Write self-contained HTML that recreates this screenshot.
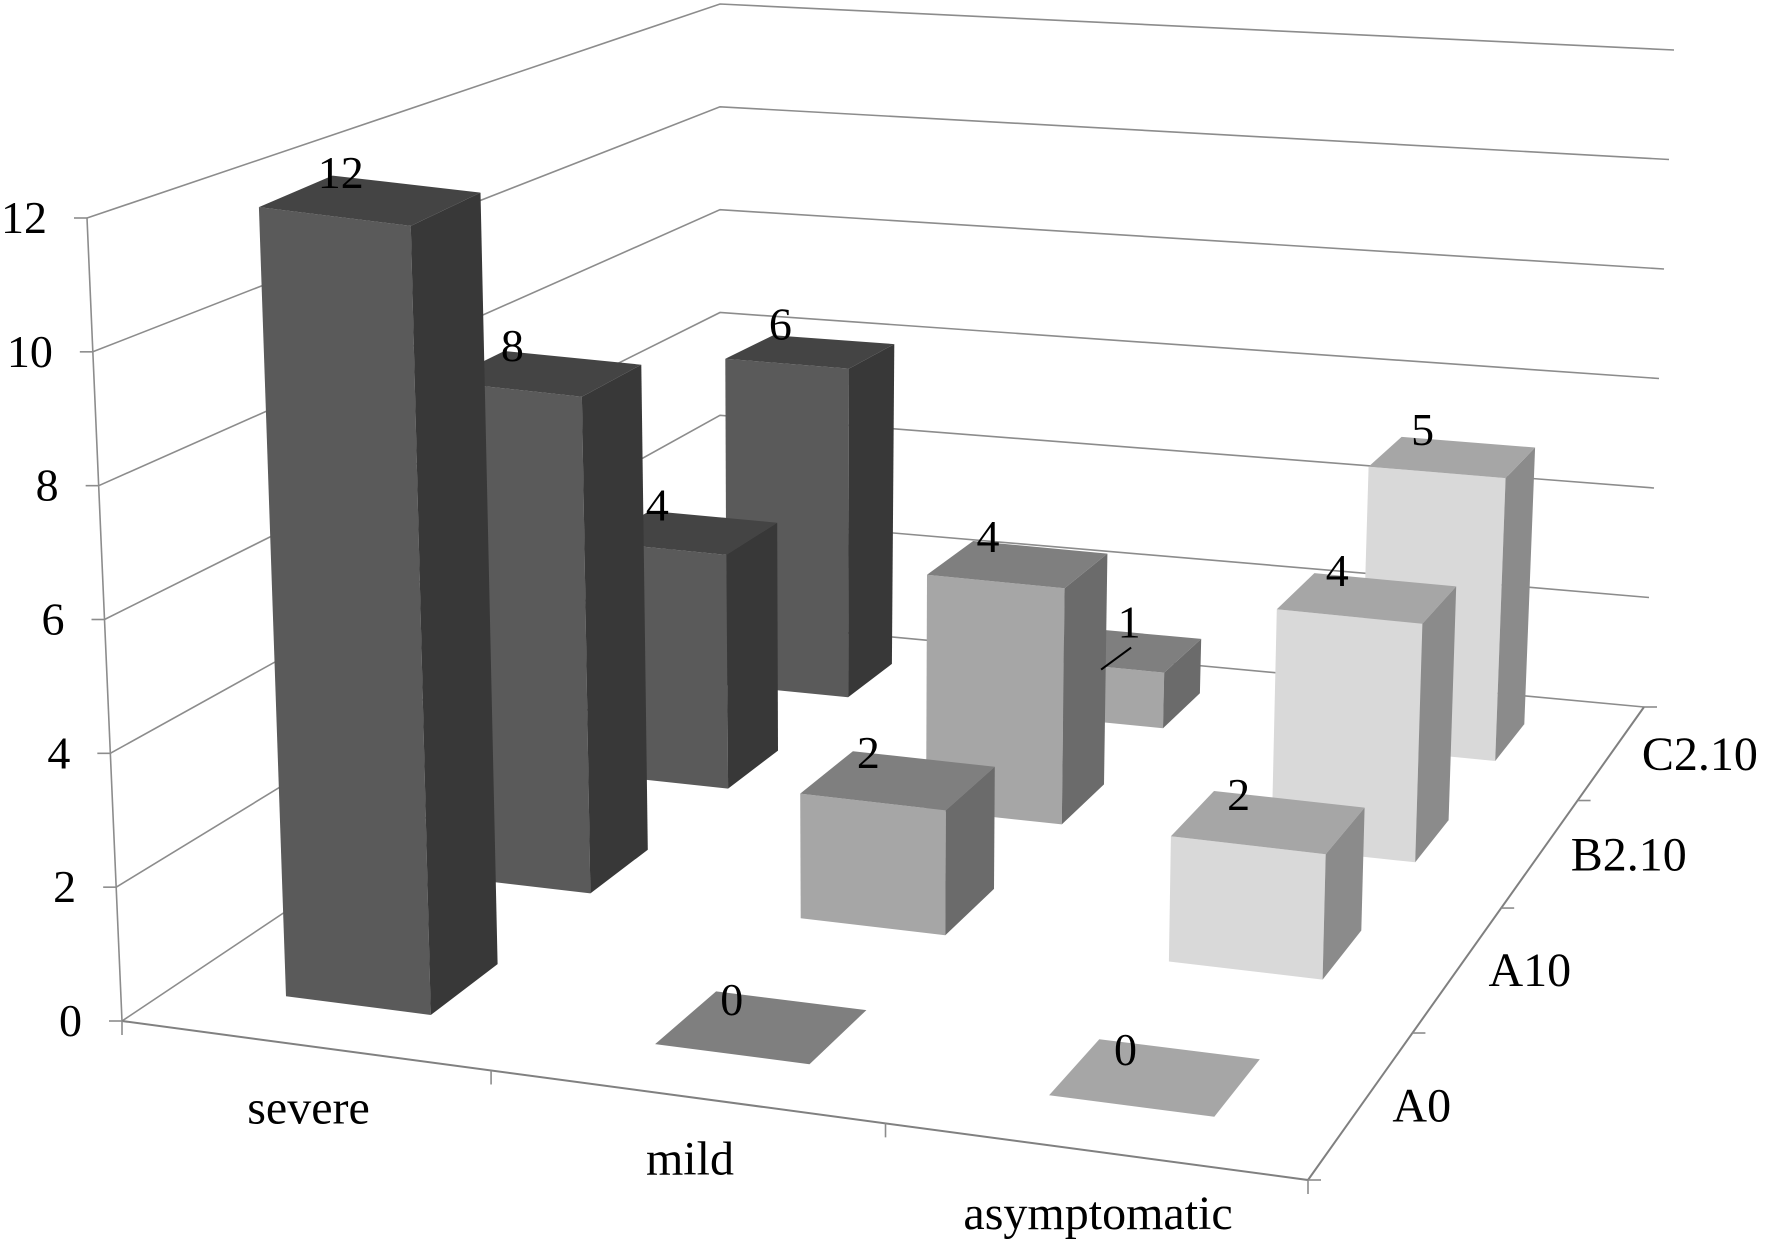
<!DOCTYPE html>
<html><head><meta charset="utf-8"><style>
html,body{margin:0;padding:0;background:#fff;}
svg{display:block;}
text{font-family:"Liberation Serif","Times New Roman","DejaVu Serif",serif;fill:#000;}
</style></head><body>
<svg id="chart" width="1772" height="1256" viewBox="0 0 1772 1256" xmlns="http://www.w3.org/2000/svg">
<g id="walls"></g>
<g id="bars"></g>
<g id="labels"></g>
</svg>
<script>
const categories = ["severe", "mild", "asymptomatic"];
const seriesNames = ["A0", "A10", "B2.10", "C2.10"];
const valuesA0 = [12, 0, 0];
const valuesA10 = [8, 2, 2];
const valuesB210 = [4, 4, 4];
const valuesC210 = [6, 1, 5];
const yTicks = [0, 2, 4, 6, 8, 10, 12];
const yMax = 12;

const seriesValues = [valuesA0, valuesA10, valuesB210, valuesC210];
const NS = "http://www.w3.org/2000/svg";

function homography(q) {
  const [x0,y0]=q[0],[x1,y1]=q[1],[x2,y2]=q[2],[x3,y3]=q[3];
  const dx1=x1-x2, dx2=x3-x2, dx3=x0-x1+x2-x3;
  const dy1=y1-y2, dy2=y3-y2, dy3=y0-y1+y2-y3;
  const den=dx1*dy2-dx2*dy1;
  const g=(dx3*dy2-dx2*dy3)/den, h=(dx1*dy3-dx3*dy1)/den;
  const a=x1-x0+g*x1, b=x3-x0+h*x3, c=x0;
  const d=y1-y0+g*y1, e=y3-y0+h*y3, f=y0;
  return (u,v)=>{const w=g*u+h*v+1;return [(a*u+b*v+c)/w,(d*u+e*v+f)/w];};
}
// floor corners: FL, FR, BR, BL
const floorH = homography([[122,1021],[1308,1180],[1644,707],[720,621]]);
// full-height (yMax) offsets at corners FL, FR, BR, BL
const offs = [[-35,-803],[20,-800],[30,-657],[0,-617]];
function off(u,v){
  const r=[0,1].map(k=>offs[0][k]*(1-u)*(1-v)+offs[1][k]*u*(1-v)+offs[2][k]*u*v+offs[3][k]*(1-u)*v);
  return r;
}
function P(u,v,val){
  const a=floorH(u,v), o=off(u,v), t=val/yMax;
  return [a[0]+o[0]*t, a[1]+o[1]*t];
}
function el(tag, attrs, parent){
  const e=document.createElementNS(NS,tag);
  for(const k in attrs) e.setAttribute(k, attrs[k]);
  parent.appendChild(e); return e;
}
function pts(arr){return arr.map(p=>p[0].toFixed(1)+","+p[1].toFixed(1)).join(" ");}

const walls=document.getElementById("walls");
const bars=document.getElementById("bars");
const labels=document.getElementById("labels");
const gridColor="#8c8c8c";

yTicks.forEach(t=>{
  const a=P(0,0,t), b=P(0,1,t), c=P(1,1,t);
  const gl=el("polyline",{points:pts([a,b,c]),fill:"none",stroke:gridColor,"stroke-width":1.6},walls);
  
  
  const tk=el("line",{x1:a[0]-13,y1:a[1],x2:a[0],y2:a[1],stroke:gridColor,"stroke-width":1.6},walls);
  
  
  const tx=el("text",{x:a[0]-40,y:a[1]+15,"text-anchor":"end","font-size":46},labels);
  tx.textContent=t;
  
  
});
{
  const a=P(0,0,0), b=P(0,0,yMax);
  const ax=el("line",{x1:a[0],y1:a[1],x2:b[0],y2:b[1],stroke:gridColor,"stroke-width":1.6},walls);
  
  
  const fl=el("polyline",{points:pts([P(0,0,0),P(1,0,0),P(1,1,0)]),fill:"none",stroke:"#808080","stroke-width":2},walls);
  
  
}
for(let i=0;i<=categories.length;i++){
  const p=P(i/categories.length,0,0);
  const tk=el("line",{x1:p[0],y1:p[1],x2:p[0],y2:p[1]+14,stroke:gridColor,"stroke-width":1.6},walls);
  
  
}
categories.forEach((c,i)=>{
  const p=P((i+0.5)/categories.length,0,0);
  const tx=el("text",{x:p[0]+5,y:p[1]+78,"text-anchor":"middle","font-size":48},labels);
  tx.textContent=c;
  
  
});
for(let s=0;s<=seriesNames.length;s++){
  const p=P(1,s/seriesNames.length,0);
  const tk=el("line",{x1:p[0],y1:p[1],x2:p[0]+13,y2:p[1],stroke:gridColor,"stroke-width":1.6},walls);
  
  
}
seriesNames.forEach((n,s)=>{
  const p=P(1,(s+0.5)/seriesNames.length,0);
  const tx=el("text",{x:p[0]+30,y:p[1]+18,"text-anchor":"start","font-size":48},labels);
  tx.textContent=n;
  
  
});

const palette=[
  {front:"#5a5a5a",side:"#383838",top:"#444444"},
  {front:"#a6a6a6",side:"#6b6b6b",top:"#7f7f7f"},
  {front:"#d9d9d9",side:"#8b8b8b",top:"#a6a6a6"}
];
const gap=0.3;
for(let s=seriesNames.length-1;s>=0;s--){
  for(let c=categories.length-1;c>=0;c--){
    const val=seriesValues[s][c];
    const u0=(c+gap)/categories.length, u1=(c+1-gap)/categories.length;
    const v0=(s+gap)/seriesNames.length, v1=(s+1-gap)/seriesNames.length;
    const col=palette[c];
    const g=el("g",{},bars);
    
    
    if(val>0){
      el("polygon",{points:pts([P(u0,v0,0),P(u1,v0,0),P(u1,v0,val),P(u0,v0,val)]),fill:col.front},g);
      el("polygon",{points:pts([P(u1,v0,0),P(u1,v1,0),P(u1,v1,val),P(u1,v0,val)]),fill:col.side},g);
    }
    el("polygon",{points:pts([P(u0,v0,val),P(u1,v0,val),P(u1,v1,val),P(u0,v1,val)]),fill:col.top},g);
    const cx=P((u0+u1)/2,(v0+v1)/2,val);
    const small = val===1;
    const lx = small ? cx[0]+10 : cx[0]-30;
    const tx=el("text",{x:lx,y:cx[1]-12,"text-anchor":"middle","font-size":46},labels);
    tx.textContent=val;
    
    
    if(small){
      const ld=el("line",{x1:lx-28,y1:cx[1]+20,x2:lx+2,y2:cx[1]-2,stroke:"#000","stroke-width":2},labels);
      
      
    }
  }
}
</script>
</body></html>
